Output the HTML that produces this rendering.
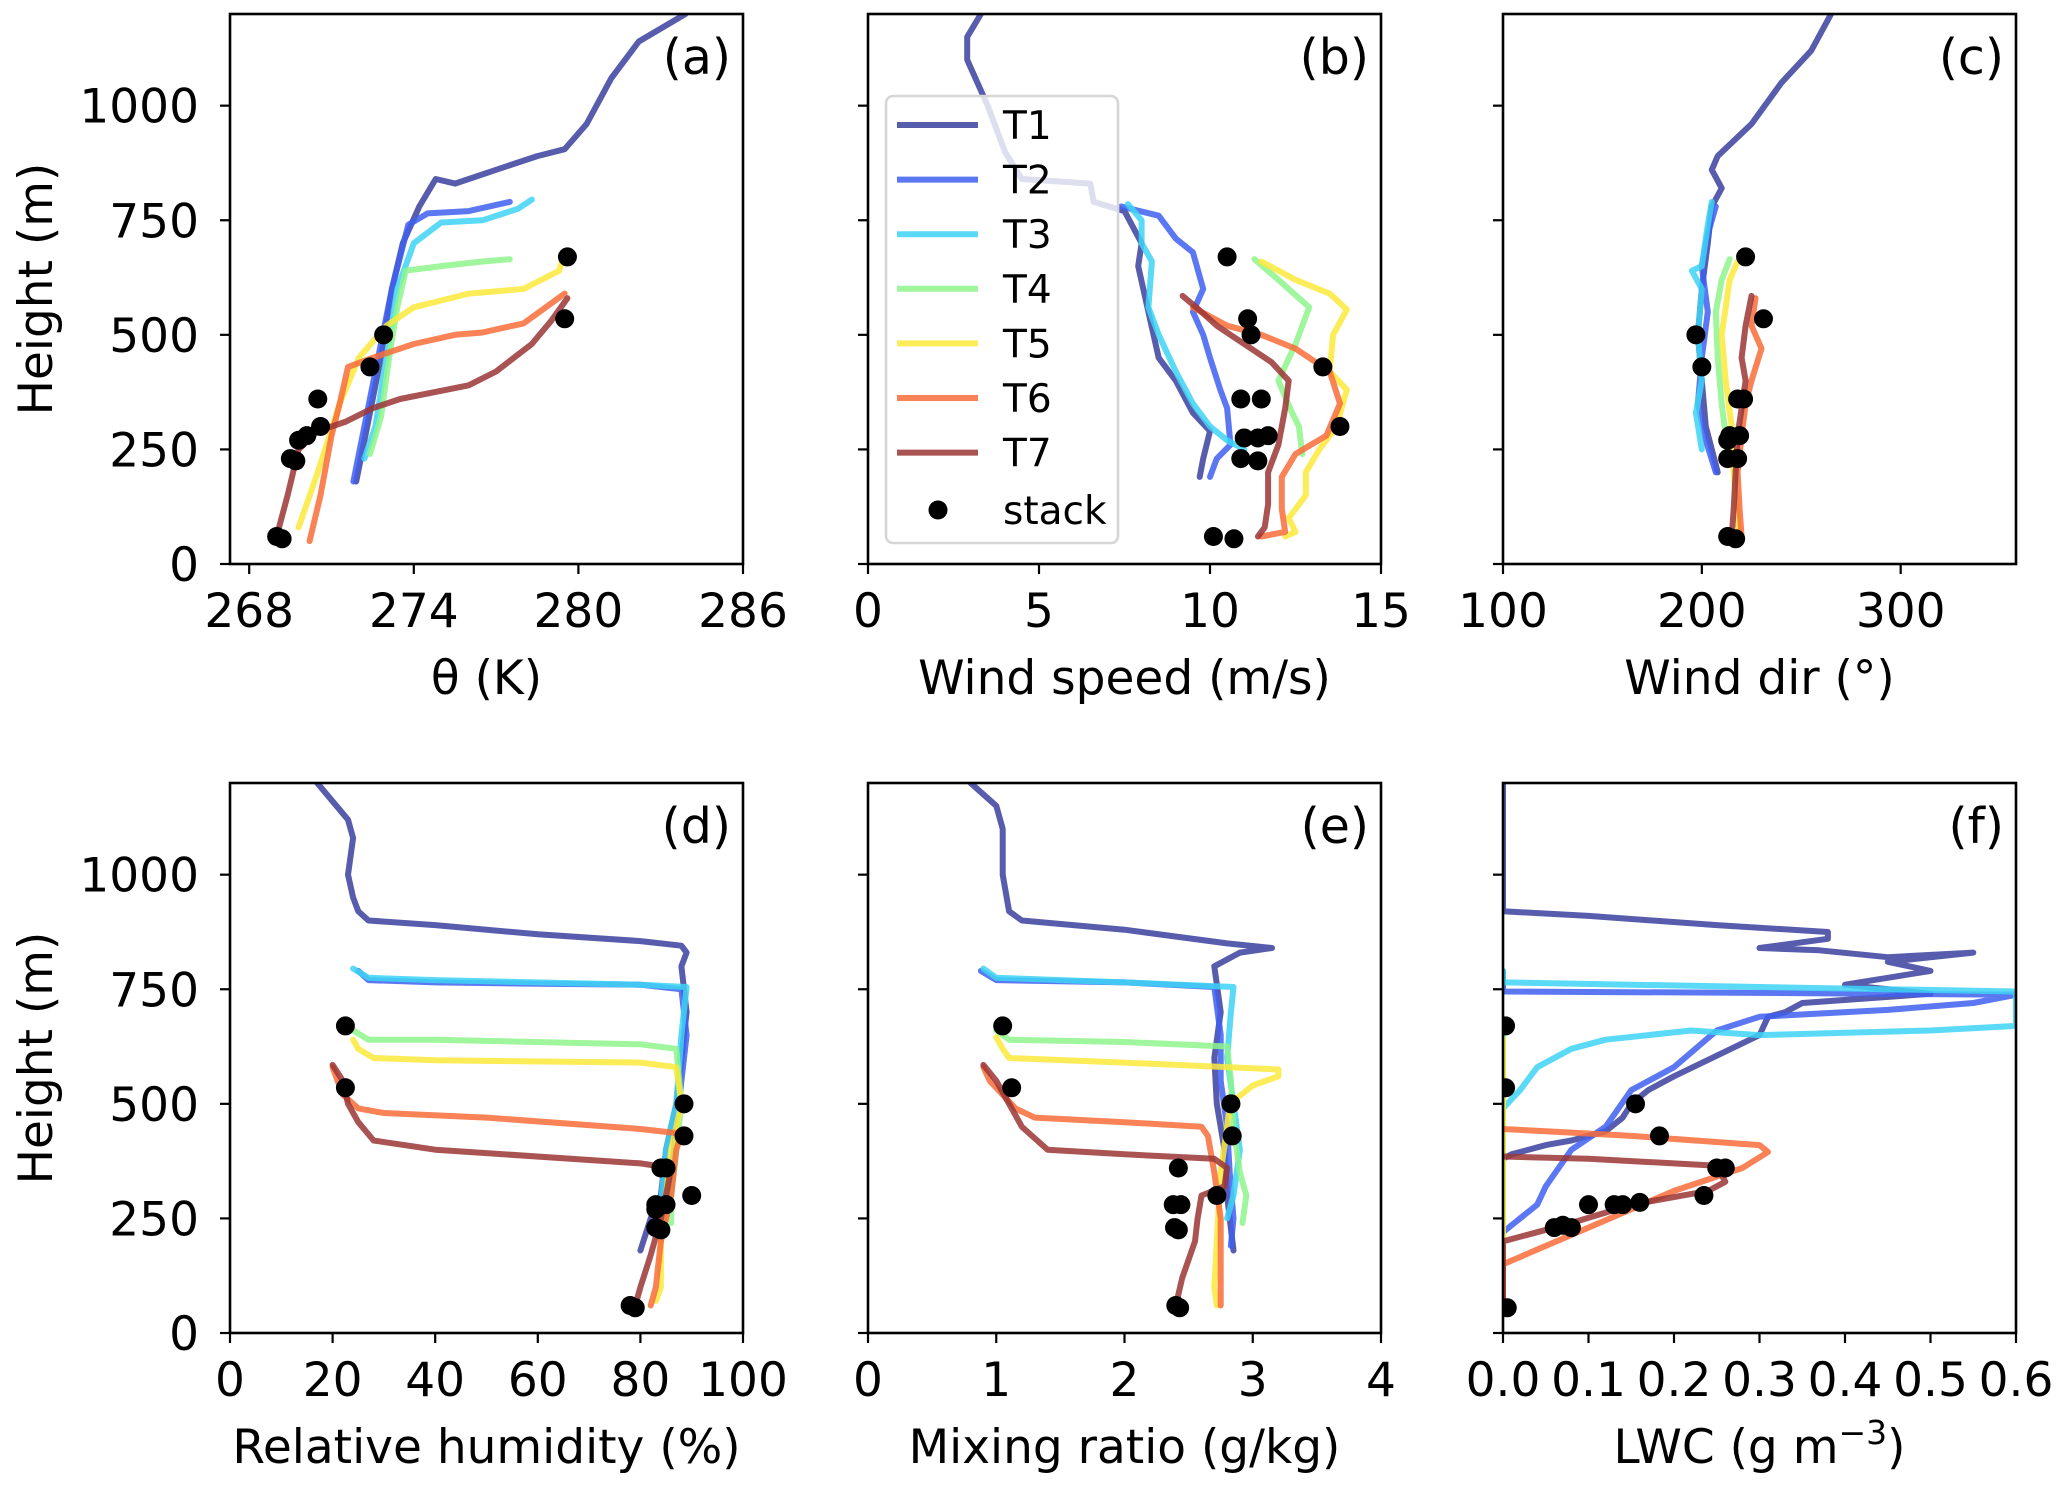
<!DOCTYPE html>
<html><head><meta charset="utf-8">
<style>
html,body{margin:0;padding:0;background:#fff;}
svg{display:block;font-family:"DejaVu Sans","Liberation Sans",sans-serif;}
</style></head>
<body>
<svg id="fig" width="2067" height="1488" viewBox="0 0 2067 1488" xmlns="http://www.w3.org/2000/svg"></svg>
<script>
// ---------- data ----------
const seriesNames = ["T1","T2","T3","T4","T5","T6","T7"];
const seriesColors = ["#3a3f9e","#3f5ff0","#3dd3f5","#8ef58c","#fbe93a","#f86c38","#9a3535"];
const yTicks = [0,250,500,750,1000];

// panel a: theta (K) [value, height]
const thetaT1 = [[271.9,180],[272.3,300],[272.8,450],[273.2,600],[273.6,700],[274.2,780],[274.8,840],[275.5,830],[277,860],[278.5,890],[279.5,905],[280.3,960],[281.2,1060],[282.2,1140],[283.9,1200]];
const thetaT2 = [[271.8,180],[272.2,300],[272.7,450],[273.2,600],[273.8,740],[274.5,765],[276,770],[277.5,790]];
const thetaT3 = [[272.2,230],[272.6,300],[273,450],[273.4,600],[274,700],[275,745],[276.5,750],[277.8,775],[278.3,795]];
const thetaT4 = [[272.4,240],[272.8,320],[273.1,450],[273.4,560],[273.7,640],[275,650],[276.5,660],[277.5,665]];
const thetaT5 = [[269.8,80],[270.5,200],[271.3,350],[272,450],[273,520],[274,560],[275,575],[276,590],[278,600],[279.3,640],[279.4,660]];
const thetaT6 = [[270.2,50],[270.6,150],[271,280],[271.3,350],[271.6,430],[272.5,450],[274,480],[275.5,500],[276.5,505],[278,525],[279.5,590]];
const thetaT7 = [[269,60],[269.4,150],[269.8,250],[270.5,290],[271.5,310],[272.5,340],[273.5,360],[276,390],[277,420],[278.3,480],[279,530],[279.6,580]];
const thetaStack = [[269,60],[269.2,55],[269.5,230],[269.7,225],[269.8,270],[270.1,280],[270.5,360],[270.6,300],[272.4,430],[272.9,500],[279.6,670],[279.5,535]];

// panel b: wind speed (m/s)
const wsT1 = [[3.3,1200],[2.9,1150],[2.9,1100],[3.5,1000],[4,900],[4.5,840],[6.5,830],[6.6,790],[7.5,770],[8,700],[7.9,650],[8.2,550],[8.5,450],[9,400],[9.5,330],[10,290],[9.8,230],[9.7,190]];
const wsT2 = [[7.4,780],[8.5,760],[9,710],[9.5,680],[9.8,600],[9.5,550],[9.8,500],[10,450],[10.3,380],[10.5,340],[10.6,260],[10.2,230],[10,190]];
const wsT3 = [[7.6,785],[8,750],[8,700],[8.3,660],[8.2,560],[8.5,500],[9,420],[9.5,350],[10,300],[10.5,270],[11,250]];
const wsT4 = [[11.3,665],[12,620],[12.9,560],[12.5,480],[12,400],[12.4,330],[12.6,300],[12.7,240]];
const wsT5 = [[11.5,660],[12.5,620],[13.5,590],[14,555],[13.6,500],[13.5,420],[14,380],[13.7,300],[13.2,250],[12.8,200],[12.8,150],[12.3,100],[12.5,70],[12.2,60]];
const wsT6 = [[9.5,560],[10.5,520],[11.5,500],[12.5,470],[13.5,420],[13.8,350],[13.4,280],[12.5,240],[12.1,190],[12.1,120],[12.2,70],[11.5,60]];
const wsT7 = [[9.2,585],[9.6,560],[10.2,520],[11,480],[11.8,440],[12.3,400],[12.2,340],[12,260],[11.7,200],[11.7,130],[11.6,80],[11.4,60]];
const wsStack = [[10.5,670],[11.1,535],[11.2,500],[13.3,430],[10.9,360],[11.5,360],[13.8,300],[11.7,280],[11.0,275],[11.4,275],[10.9,230],[11.4,225],[10.1,60],[10.7,55]];

// panel c: wind direction (deg)
const wdT1 = [[265,1200],[255,1120],[240,1050],[225,960],[208,890],[205,860],[210,820],[205,780],[203,700],[200,600],[198,500],[200,400],[202,300],[205,250],[208,200]];
const wdT2 = [[207,780],[203,720],[200,650],[203,550],[200,450],[198,350],[202,270],[207,200]];
const wdT3 = [[205,790],[203,740],[200,650],[195,640],[200,600],[198,500],[200,400],[197,330],[200,250]];
const wdT4 = [[214,665],[210,620],[207,550],[208,450],[210,350],[212,280],[214,220]];
const wdT5 = [[218,660],[214,620],[212,560],[210,500],[212,400],[215,300],[216,200],[218,100],[219,60]];
const wdT6 = [[227,580],[225,520],[230,470],[225,400],[222,350],[220,280],[218,200],[219,120],[220,60]];
const wdT7 = [[225,585],[222,520],[220,450],[222,400],[220,340],[218,280],[217,200],[216,120],[215,60]];
const wdStack = [[222,670],[231,535],[197,500],[200,430],[218,360],[221,360],[214,280],[219,280],[213,270],[213,230],[218,230],[213,60],[217,55]];

// panel d: relative humidity (%)
const rhT1 = [[17,1200],[20,1160],[23,1120],[24,1080],[23,1000],[24,950],[25,920],[27,900],[40,890],[60,870],[80,855],[88,845],[89,830],[88,800],[89,700],[88,600],[87,500],[85,400],[84,300],[82,250],[80,180]];
const rhT2 = [[25,790],[27,770],[40,765],[60,762],[80,760],[88,750],[89,650],[88,550],[87,450],[86,350],[85,280],[84,200]];
const rhT3 = [[24,795],[27,775],[40,770],[80,760],[89,755],[88,650],[87,500],[85,400],[84,280],[84,250]];
const rhT4 = [[24,660],[27,640],[40,640],[80,630],[87,620],[88,500],[87,400],[86,300],[86,240]];
const rhT5 = [[24,640],[25,620],[28,600],[40,595],[80,590],[87,580],[88,500],[86,400],[85,300],[84,200],[84,100],[83,70]];
const rhT6 = [[20,580],[21,550],[22,520],[25,490],[30,480],[50,470],[80,445],[88,435],[87,400],[86,300],[84,200],[83,100],[82,60]];
const rhT7 = [[20,585],[22,550],[23,500],[25,460],[28,420],[40,400],[80,370],[86,360],[85,300],[84,250],[82,170],[80,100],[79,60]];
const rhStack = [[22.5,670],[22.5,535],[88.5,500],[88.5,430],[84,360],[85,360],[90,300],[83,280],[85,280],[83,270],[83,230],[84,225],[78,60],[79,55]];

// panel e: mixing ratio (g/kg)
const mrT1 = [[0.8,1200],[1.0,1150],[1.05,1100],[1.05,1000],[1.1,920],[1.2,900],[2.0,880],[2.8,850],[3.15,840],[2.9,830],[2.7,800],[2.75,700],[2.7,600],[2.72,500],[2.78,400],[2.8,300],[2.82,250],[2.85,180]];
const mrT2 = [[0.88,790],[1.0,770],[2.0,765],[2.7,755],[2.75,650],[2.75,550],[2.8,450],[2.82,350],[2.85,250],[2.83,190]];
const mrT3 = [[0.9,795],[1.0,775],[2.0,765],[2.85,755],[2.83,700],[2.8,600],[2.85,500],[2.9,400],[2.85,300],[2.8,250]];
const mrT4 = [[1.0,660],[1.1,640],[2.0,635],[2.8,625],[2.83,550],[2.85,450],[2.9,350],[2.95,300],[2.92,240]];
const mrT5 = [[1.0,645],[1.05,620],[1.1,600],[2.0,590],[3.2,575],[3.2,560],[3.0,540],[2.82,500],[2.8,450],[2.75,350],[2.72,200],[2.7,100],[2.72,60]];
const mrT6 = [[0.9,580],[0.95,550],[1.05,520],[1.15,490],[1.3,470],[2.0,460],[2.6,450],[2.65,430],[2.7,350],[2.75,250],[2.75,150],[2.75,60]];
const mrT7 = [[0.9,585],[1.0,550],[1.1,500],[1.2,450],[1.4,400],[2.0,390],[2.7,380],[2.8,360],[2.78,320],[2.6,300],[2.57,250],[2.55,200],[2.45,120],[2.4,60]];
const mrStack = [[1.05,670],[1.12,535],[2.83,500],[2.84,430],[2.42,360],[2.72,300],[2.38,280],[2.44,280],[2.39,230],[2.42,225],[2.4,60],[2.43,55]];

// panel f: LWC (g m^-3)
const lwcT1 = [[0,1200],[0,920],[0.1,910],[0.25,890],[0.38,875],[0.38,860],[0.3,840],[0.37,835],[0.45,820],[0.55,830],[0.45,810],[0.5,790],[0.4,760],[0.5,740],[0.35,720],[0.33,700],[0.31,690],[0.3,650],[0.2,560],[0.17,530],[0.15,500],[0.14,470],[0.12,440],[0.08,420],[0.05,410],[0.01,390],[0,380]];
const lwcT2 = [[0,790],[0,745],[0.3,742],[0.6,738],[0.55,720],[0.45,705],[0.3,690],[0.25,660],[0.2,580],[0.15,530],[0.12,450],[0.08,400],[0.05,320],[0.04,280],[0.02,250],[0,220]];
const lwcT3 = [[0,790],[0,765],[0.3,755],[0.6,745],[0.6,720],[0.6,670],[0.5,660],[0.3,650],[0.22,660],[0.12,640],[0.08,620],[0.04,580],[0.02,530],[0,490]];
const lwcT4 = [[0,660],[0,240]];
const lwcT5 = [[0,640],[0,60]];
const lwcT6 = [[0,445],[0.05,440],[0.15,430],[0.3,410],[0.31,395],[0.28,360],[0.2,310],[0.15,270],[0.1,230],[0.05,190],[0,150],[0,60]];
const lwcT7 = [[0,385],[0.1,380],[0.2,370],[0.25,365],[0.26,330],[0.24,310],[0.15,280],[0.08,240],[0.04,220],[0,200],[0,60]];
const lwcStack = [[0.003,670],[0.003,535],[0.155,500],[0.183,430],[0.26,360],[0.25,360],[0.235,300],[0.1,280],[0.13,280],[0.14,280],[0.16,285],[0.06,230],[0.07,235],[0.08,230],[0.005,55]];

const thetaTicks = [268,274,280,286];
const wsTicks = [0,5,10,15];
const wdTicks = [100,200,300];
const rhTicks = [0,20,40,60,80,100];
const mrTicks = [0,1,2,3,4];
const lwcTicks = [0.0,0.1,0.2,0.3,0.4,0.5,0.6];
const lwcTickLabels = ["0.0","0.1","0.2","0.3","0.4","0.5","0.6"];

// ---------- drawing ----------
const NS = "http://www.w3.org/2000/svg";
const svg = document.getElementById('fig');
function mk(tag, attrs, parent){ const e=document.createElementNS(NS,tag); for(const k in attrs) e.setAttribute(k,attrs[k]); (parent||svg).appendChild(e); return e; }

const W = 513, H = 550;
const FS = 47;
const panels = [
  {id:"a", x0:230, y0:14, xmin:267.3, xmax:286, ticks:thetaTicks, labels:null, xlabel:"θ (K)", series:[thetaT1,thetaT2,thetaT3,thetaT4,thetaT5,thetaT6,thetaT7], stack:thetaStack, ylab:true},
  {id:"b", x0:868, y0:14, xmin:0, xmax:15, ticks:wsTicks, labels:null, xlabel:"Wind speed (m/s)", series:[wsT1,wsT2,wsT3,wsT4,wsT5,wsT6,wsT7], stack:wsStack, ylab:false},
  {id:"c", x0:1503, y0:14, xmin:100, xmax:358, ticks:wdTicks, labels:null, xlabel:"Wind dir (°)", series:[wdT1,wdT2,wdT3,wdT4,wdT5,wdT6,wdT7], stack:wdStack, ylab:false},
  {id:"d", x0:230, y0:783, xmin:0, xmax:100, ticks:rhTicks, labels:null, xlabel:"Relative humidity (%)", series:[rhT1,rhT2,rhT3,rhT4,rhT5,rhT6,rhT7], stack:rhStack, ylab:true},
  {id:"e", x0:868, y0:783, xmin:0, xmax:4, ticks:mrTicks, labels:null, xlabel:"Mixing ratio (g/kg)", series:[mrT1,mrT2,mrT3,mrT4,mrT5,mrT6,mrT7], stack:mrStack, ylab:false},
  {id:"f", x0:1503, y0:783, xmin:0, xmax:0.6, ticks:lwcTicks, labels:lwcTickLabels, xlabel:"LWC", series:[lwcT1,lwcT2,lwcT3,lwcT4,lwcT5,lwcT6,lwcT7], stack:lwcStack, ylab:false}
];
const YMAX = 1200;

panels.forEach(p=>{
  const g = mk('g',{});
  
  
  const xs = v => p.x0 + (v-p.xmin)/(p.xmax-p.xmin)*W;
  const ys = v => p.y0 + H - v/YMAX*H;
  const cid = 'clip-'+p.id;
  const cp = mk('clipPath',{id:cid},g); mk('rect',{x:p.x0,y:p.y0,width:W,height:H},cp);
  const plot = mk('g',{'clip-path':'url(#'+cid+')'},g);
  p.series.forEach((s,i)=>{
    const d = s.map((pt,j)=>(j?'L':'M')+xs(pt[0]).toFixed(1)+' '+ys(pt[1]).toFixed(1)).join(' ');
    const path = mk('path',{d:d,fill:'none',stroke:seriesColors[i],'stroke-width':6,'stroke-opacity':0.85,'stroke-linejoin':'round','stroke-linecap':'round'},plot);
    
    
  });
  p.stack.forEach(pt=>{
    const c = mk('circle',{cx:xs(pt[0]),cy:ys(pt[1]),r:9.5,fill:'#000'},plot);
    
    
  });
  const frame = mk('rect',{x:p.x0,y:p.y0,width:W,height:H,fill:'none',stroke:'#000','stroke-width':2.6},g);
  
  
  yTicks.forEach(t=>{
    const y = ys(t);
    mk('line',{x1:p.x0-10,x2:p.x0,y1:y,y2:y,stroke:'#000','stroke-width':2.2},g);
    if(p.ylab){
      const tx = mk('text',{x:p.x0-31,y:y+17,'text-anchor':'end','font-size':FS,fill:'#000'},g);
      tx.textContent = t;
      
      
    }
  });
  p.ticks.forEach((t,i)=>{
    const x = xs(t);
    mk('line',{x1:x,x2:x,y1:p.y0+H,y2:p.y0+H+10,stroke:'#000','stroke-width':2.2},g);
    const tx = mk('text',{x:x,y:p.y0+H+63,'text-anchor':'middle','font-size':FS,fill:'#000'},g);
    tx.textContent = p.labels ? p.labels[i] : t;
    
    
  });
  const xl = mk('text',{x:p.x0+W/2,y:p.y0+H+130,'text-anchor':'middle','font-size':FS,fill:'#000'},g);
  if(p.id==='f'){
    xl.textContent = 'LWC (g m';
    const sup = mk('tspan',{dy:-19,'font-size':33},xl); sup.textContent='−3';
    const cl = mk('tspan',{dy:19},xl); cl.textContent=')';
  } else xl.textContent = p.xlabel;
  
  
  if(p.ylab){
    const yl = mk('text',{x:0,y:0,'text-anchor':'middle','font-size':FS,fill:'#000',transform:'translate(52,'+(p.y0+H/2)+') rotate(-90)'},g);
    yl.textContent = 'Height (m)';
    
    
  }
  const pl = mk('text',{x:p.x0+W-12,y:p.y0+60,'text-anchor':'end','font-size':49,fill:'#000'},g);
  pl.textContent = '('+p.id+')';
  
  
});

// legend
const lg = mk('g',{});


mk('rect',{x:886,y:96,width:232,height:447,rx:7,fill:'#fff','fill-opacity':0.8,stroke:'#d6d6d6','stroke-width':2.6},lg);
seriesNames.forEach((n,i)=>{
  const y = 125 + i*54.6;
  const e = mk('g',{},lg);
  
  
  mk('line',{x1:897,x2:978,y1:y,y2:y,stroke:seriesColors[i],'stroke-width':6,'stroke-opacity':0.85},e);
  const t = mk('text',{x:1003,y:y+14,'font-size':39,fill:'#000'},e); t.textContent=n;
});
const se = mk('g',{},lg);


mk('circle',{cx:938,cy:510,r:9.5,fill:'#000'},se);
const st = mk('text',{x:1003,y:524,'font-size':39,fill:'#000'},se); st.textContent='stack';
</script>
</body></html>
